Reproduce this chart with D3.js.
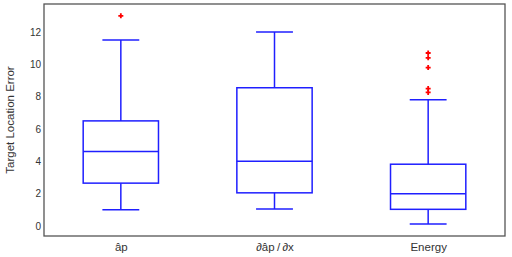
<!DOCTYPE html>
<html>
<head>
<meta charset="utf-8">
<script src="https://cdn.jsdelivr.net/npm/d3@7"></script>
<style>
  body { margin: 0; background: #fff; }
  text { font-family: "Liberation Sans", Arial, sans-serif; fill: #333; }
</style>
</head>
<body>
<svg id="box1" width="512" height="257"></svg>
<script>
    // categories and box statistics
    var categories = ["\u00e2p", "\u2202\u00e2p\u2009/\u2009\u2202x", "Energy"];
    var lowerWhisker = [1.0, 1.05, 0.12];
    var q1 = [2.65, 2.05, 1.03];
    var median = [4.6, 4.0, 2.0];
    var q3 = [6.5, 8.55, 3.82];
    var upperWhisker = [11.5, 12.0, 7.8];
    var outliers = [[13.0], [], [10.7, 10.4, 9.8, 8.5, 8.26]];
    var yTicks = [0, 2, 4, 6, 8, 10, 12];

    var graph = d3.select("#box1"),
        margin = { top: 4, right: 7, bottom: 21, left: 44 },
        width = +graph.attr("width") - margin.left - margin.right,
        height = +graph.attr("height") - margin.top - margin.bottom,
        g = graph.append("g").attr("transform", "translate(" + margin.left + "," + margin.top + ")");

    var x = d3.scalePoint().domain(categories).range([0, width]).padding(0.5);
    var y = d3.scaleLinear().domain([-0.62, 13.73]).range([height, 0]);

    var boxW = x.step() * 0.49,
        capW = x.step() * 0.24,
        blue = "#1f1fff";

    var data = categories.map(function (c, i) {
        return { cat: c, lo: lowerWhisker[i], q1: q1[i], med: median[i], q3: q3[i], hi: upperWhisker[i], out: outliers[i] };
    });

    var boxes = g.selectAll(".box").data(data).enter().append("g")
        .attr("class", "box")
        .attr("transform", function (d) { return "translate(" + x(d.cat) + ",0)"; })
        .attr("stroke", blue)
        .attr("stroke-width", 1.5)
        .attr("fill", "none");

    // whiskers
    boxes.append("line").attr("x1", 0).attr("x2", 0)
        .attr("y1", function (d) { return y(d.q3); }).attr("y2", function (d) { return y(d.hi); });
    boxes.append("line").attr("x1", 0).attr("x2", 0)
        .attr("y1", function (d) { return y(d.q1); }).attr("y2", function (d) { return y(d.lo); });
    boxes.append("line").attr("x1", -capW / 2).attr("x2", capW / 2)
        .attr("y1", function (d) { return y(d.hi); }).attr("y2", function (d) { return y(d.hi); });
    boxes.append("line").attr("x1", -capW / 2).attr("x2", capW / 2)
        .attr("y1", function (d) { return y(d.lo); }).attr("y2", function (d) { return y(d.lo); });

    // box and median
    boxes.append("rect")
        .attr("x", -boxW / 2).attr("width", boxW)
        .attr("y", function (d) { return y(d.q3); })
        .attr("height", function (d) { return y(d.q1) - y(d.q3); });
    boxes.append("line").attr("x1", -boxW / 2).attr("x2", boxW / 2)
        .attr("y1", function (d) { return y(d.med); }).attr("y2", function (d) { return y(d.med); });

    // outliers as red plus marks
    boxes.selectAll(".out").data(function (d) { return d.out; }).enter().append("path")
        .attr("class", "out")
        .attr("d", function (v) {
            var cy = y(v);
            return "M-2.5," + cy + "H2.5M0," + (cy - 2.5) + "V" + (cy + 2.5);
        })
        .attr("stroke", "#ff0000")
        .attr("stroke-width", 1.8);

    // frame
    g.append("rect")
        .attr("width", width).attr("height", height)
        .attr("fill", "none").attr("stroke", "#555").attr("stroke-width", 1.3);

    // Y axis labels (no tick marks)
    var yAxis = g.append("g")
        .call(d3.axisLeft(y).tickValues(yTicks).tickSize(0).tickPadding(3));
    yAxis.select(".domain").remove();
    yAxis.selectAll("text").style("font-size", "10px").attr("fill", "#333");

    // X axis labels
    var xAxis = g.append("g")
        .attr("transform", "translate(0," + height + ")")
        .call(d3.axisBottom(x).tickSize(0).tickPadding(7));
    xAxis.select(".domain").remove();
    xAxis.selectAll("text").style("font-size", "11.5px").attr("fill", "#333");

    // Y axis title
    graph.append("text")
        .attr("transform", "translate(14," + (margin.top + height / 2) + ") rotate(-90)")
        .attr("text-anchor", "middle")
        .style("font-size", "11.5px")
        .text("Target Location Error");
</script>
</body>
</html>
